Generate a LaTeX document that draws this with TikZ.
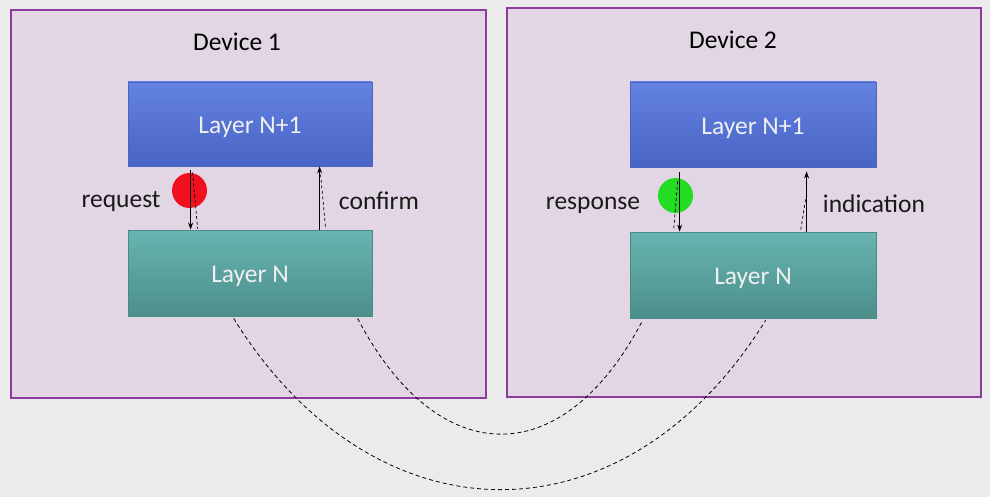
\documentclass[tikz,border=0pt]{standalone}
\usepackage{fontspec}
\setmainfont{Carlito}
\usetikzlibrary{arrows.meta,calc}
\definecolor{bgc}{HTML}{EBEBEB}
\definecolor{devfill}{HTML}{E2D5E4}
\definecolor{devline}{HTML}{8E3C9C}
\definecolor{bluetop}{HTML}{6482E2}
\definecolor{bluebot}{HTML}{4864C4}
\definecolor{blueline}{HTML}{4A66C0}
\definecolor{tealtop}{HTML}{68B4B0}
\definecolor{tealbot}{HTML}{4C8F8B}
\definecolor{tealline}{HTML}{4A8A86}
\definecolor{redc}{HTML}{F0101E}
\definecolor{greenc}{HTML}{22DD22}
\tikzset{
  px/.style={x=1pt,y=-1pt},
  device/.style={draw=devline,fill=devfill,line width=2.2pt},
  layertext/.style={text=white!94!black,font=\fontsize{25.5}{30}\selectfont,
    text height=24pt,text depth=4.8pt},
  upper/.style={layertext,draw=blueline,line width=0.8pt,top color=bluetop,bottom color=bluebot},
  lower/.style={layertext,draw=tealline,line width=0.8pt,top color=tealtop,bottom color=tealbot},
  lbl/.style={font=\fontsize{25.5}{30}\selectfont,text=black!90},
  title/.style={font=\fontsize{25.5}{30}\selectfont,text=black},
  prim/.style={line width=0.9pt,-{Stealth[length=7pt,width=5pt]}},
  echo/.style={line width=0.7pt,dash pattern=on 3pt off 2.5pt},
  link/.style={line width=0.8pt,dash pattern=on 4pt off 3pt},
}
\begin{document}
\begin{tikzpicture}[px]
\fill[bgc] (0,0) rectangle (990,497);
\useasboundingbox (0,0) rectangle (990,497);
% devices
\draw[device] (11,10) rectangle (486,398);
\draw[device] (507,8) rectangle (981,397);
\node[title] (d1) at (237,42) {Device 1};
\node[title] (d2) at (733,40) {Device 2};
% layers
\node[upper,minimum width=244pt,minimum height=84pt] (a1) at (250,124) {Layer N+1};
\node[lower,minimum width=244pt,minimum height=86pt] (b1) at (250,273) {Layer N};
\node[upper,minimum width=246pt,minimum height=85pt] (a2) at (753,124.5) {Layer N+1};
\node[lower,minimum width=246pt,minimum height=86pt] (b2) at (753,275) {Layer N};
% dots
\fill[redc] (189.5,190.5) circle (17.5);
\fill[greenc] (675.5,195.5) circle (17.5);
\node[circle,minimum size=35pt,inner sep=0pt] (rd) at (189.5,190.5) {};
\node[circle,minimum size=35pt,inner sep=0pt] (gd) at (675.5,195.5) {};
% labels
\node[lbl] (req) at (121,201) {request};
\node[lbl] (conf) at (379,201) {confirm};
\node[lbl] (resp) at (593,205) {response};
\node[lbl] (ind) at (874,204) {indication};
% coordinates on layer edges
\coordinate (r1t) at ($(a1.south west)+(63,4)$);
\coordinate (r1b) at ($(b1.north west)+(63,0)$);
\coordinate (e1t) at ($(a1.south west)+(65,6)$);
\coordinate (e1b) at ($(b1.north west)+(70,-1)$);
\coordinate (c1b) at ($(b1.north west)+(192,0)$);
\coordinate (c1t) at ($(a1.south west)+(192,0)$);
\coordinate (f1t) at ($(a1.south west)+(193,8)$);
\coordinate (f1b) at ($(b1.north west)+(198,-1)$);
\coordinate (r2t) at ($(a2.south west)+(50,5)$);
\coordinate (r2b) at ($(b2.north west)+(50,0)$);
\coordinate (e2t) at ($(a2.south west)+(48,14)$);
\coordinate (e2b) at ($(b2.north west)+(44,-1)$);
\coordinate (i2b) at ($(b2.north west)+(177,0)$);
\coordinate (i2t) at ($(a2.south west)+(177,4)$);
\coordinate (j2t) at ($(a2.south west)+(176,32)$);
\coordinate (j2b) at ($(b2.north west)+(171,-1)$);
% primitives
\draw[echo] (e1t) -- (e1b);
\draw[prim] (r1t) -- (r1b);
\draw[echo] (f1t) -- (f1b);
\draw[prim] (c1b) -- (c1t);
\draw[echo] (e2t) -- (e2b);
\draw[prim] (r2t) -- (r2b);
\draw[echo] (j2t) -- (j2b);
\draw[prim] (i2b) -- (i2t);
% peer links
\coordinate (o1) at ($(b1.south west)+(106,2)$);
\coordinate (o2) at ($(b2.south west)+(136,2)$);
\coordinate (n1) at ($(b1.south west)+(230,2)$);
\coordinate (n2) at ($(b2.south west)+(13,2)$);
\draw[link] (o1) .. controls ($(o1)+(141,227)$) and ($(o2)+(-141,227)$) .. (o2);
\draw[link] (n1) .. controls ($(n1)+(80,153)$) and ($(n2)+(-80,153)$) .. (n2);
\end{tikzpicture}
\end{document}
